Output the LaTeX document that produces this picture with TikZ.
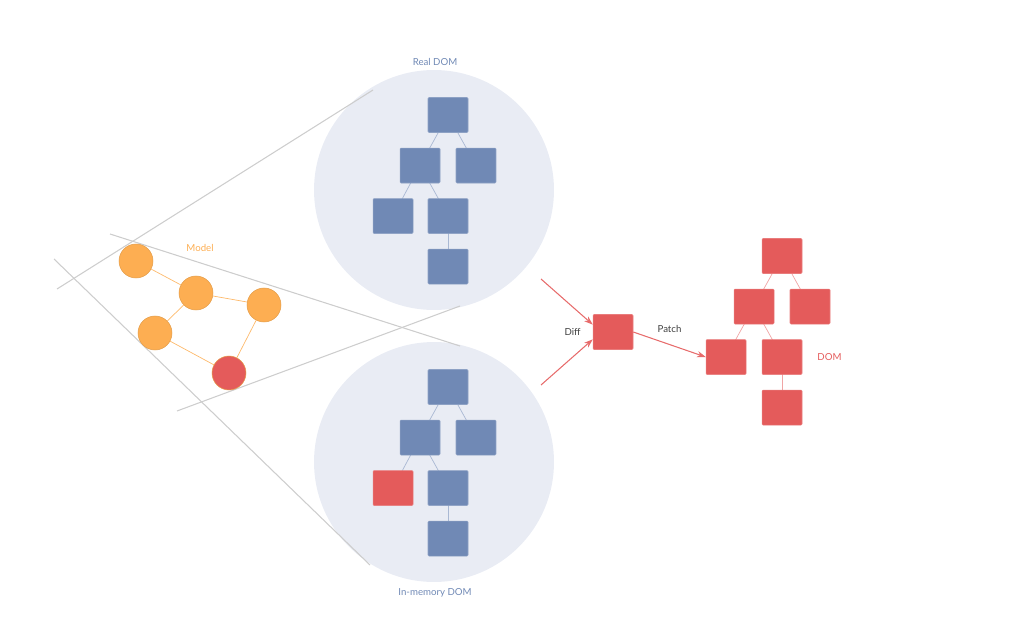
\documentclass[tikz,border=0pt]{standalone}
\usepackage{fontspec}
\setmainfont{Lato}
\usetikzlibrary{arrows.meta,positioning}

\definecolor{domblue}{HTML}{7089B5}
\definecolor{domred}{HTML}{E45B5B}
\definecolor{modelorange}{HTML}{FDAE52}
\definecolor{bubble}{HTML}{E9ECF4}
\definecolor{guide}{HTML}{CDCDCD}

\pgfdeclarelayer{background}
\pgfdeclarelayer{edges}
\pgfsetlayers{background,edges,main}

\begin{document}
\begin{tikzpicture}[
  x=0.02cm, y=-0.02cm,
  font=\fontsize{5.5}{6.5}\selectfont,
  >=Stealth,
  domnode/.style={
    rectangle, rounded corners=0.6pt, draw=domblue!80!white, fill=domblue,
    minimum width=0.8cm, minimum height=0.7cm, inner sep=0pt, line width=0.3pt
  },
  patchnode/.style={
    domnode, draw=domred!80!white, fill=domred
  },
  modelnode/.style={
    circle, draw=modelorange!90!black, fill=modelorange,
    minimum size=0.68cm, inner sep=0pt, line width=0.3pt
  },
  bluelink/.style={draw=domblue!60!white, line width=0.4pt},
  redlink/.style={draw=domred!55!white, line width=0.4pt},
  modellink/.style={draw=modelorange!85!white, line width=0.4pt},
  guideline/.style={draw=guide, line width=0.6pt},
  arr/.style={->, draw=domred!90!white, line width=0.6pt,
    >={Stealth[length=5pt, width=3.5pt]}},
]
\useasboundingbox (0,0) rectangle (1023,621);

%% Bubbles behind the two DOM trees
\begin{pgfonlayer}{background}
  \fill[bubble] (434,190) circle (2.4cm);
  \fill[bubble] (434,462) circle (2.4cm);
\end{pgfonlayer}

%% Zoom guide lines from the model to the bubbles
\draw[guideline] (57,289)  -- (373,90);
\draw[guideline] (110,234) -- (460,346);
\draw[guideline] (54,259)  -- (370,565);
\draw[guideline] (177,411) -- (460,306);

%% Real DOM tree
\node[domnode] (r1) at (448,115) {};
\node[domnode, below=0.3cm of r1, xshift=-0.56cm] (r2) {};
\node[domnode, below=0.3cm of r1, xshift=0.56cm]  (r3) {};
\node[domnode, below=0.3cm of r2, xshift=-0.54cm] (r4) {};
\node[domnode, below=0.3cm of r2, xshift=0.56cm]  (r5) {};
\node[domnode, below=0.3cm of r5]                 (r6) {};
\node[text=domblue] (reallabel) at (435,62) {Real DOM};

%% In-memory DOM tree
\node[domnode] (m1) at (448,387) {};
\node[domnode, below=0.3cm of m1, xshift=-0.56cm]   (m2) {};
\node[domnode, below=0.3cm of m1, xshift=0.56cm]    (m3) {};
\node[patchnode, below=0.3cm of m2, xshift=-0.54cm] (m4) {};
\node[domnode, below=0.3cm of m2, xshift=0.56cm]    (m5) {};
\node[domnode, below=0.3cm of m5]                   (m6) {};
\node[text=domblue] (memlabel) at (435,593) {In-memory DOM};

%% Patched DOM tree
\node[patchnode] (d1) at (782,256) {};
\node[patchnode, below=0.3cm of d1, xshift=-0.56cm] (d2) {};
\node[patchnode, below=0.3cm of d1, xshift=0.56cm]  (d3) {};
\node[patchnode, below=0.3cm of d2, xshift=-0.56cm] (d4) {};
\node[patchnode, below=0.3cm of d2, xshift=0.56cm]  (d5) {};
\node[patchnode, below=0.3cm of d5]                 (d6) {};
\node[text=domred, right=0.18cm of d5] (domlabel) {DOM};

%% Tree edges (centre to centre, under the boxes)
\begin{pgfonlayer}{edges}
  \foreach \p/\c in {r1/r2, r1/r3, r2/r4, r2/r5, r5/r6,
                     m1/m2, m1/m3, m2/m4, m2/m5, m5/m6}
    \draw[bluelink] (\p.center) -- (\c.center);
  \foreach \p/\c in {d1/d2, d1/d3, d2/d4, d2/d5, d5/d6}
    \draw[redlink] (\p.center) -- (\c.center);
\end{pgfonlayer}

%% Model graph
\node[modelnode] (s1) at (136,261) {};
\node[modelnode] (s2) at (196,293) {};
\node[modelnode] (s3) at (264,305) {};
\node[modelnode] (s4) at (155,333) {};
\node[modelnode, fill=domred] (s5) at (229,373) {};
\node[text=modelorange] (modellabel) at (200,248) {Model};
\draw[modellink] (s1) -- (s2);
\draw[modellink] (s2) -- (s3);
\draw[modellink] (s2) -- (s4);
\draw[modellink] (s4) -- (s5);
\draw[modellink] (s3) -- (s5);

%% Diff and patch
\node[patchnode] (diff) at (613,332) {};
\node[left=0.12cm of diff, text=black!75] (difflabel) {Diff};
\coordinate (fromreal) at (541,279);
\coordinate (frommem)  at (541,385);
\draw[arr] (fromreal) -- (diff.160);
\draw[arr] (frommem)  -- (diff.200);
\draw[arr] (diff.east) -- node[above=3pt, text=black!75] {Patch} (d4.west);

\end{tikzpicture}
\end{document}
